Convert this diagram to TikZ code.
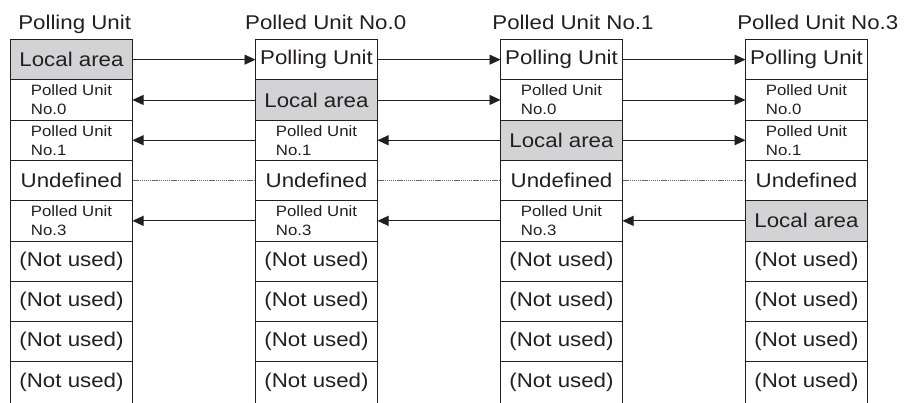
\documentclass[tikz,border=0pt]{standalone}
\usepackage{fontspec}
\setmainfont{Liberation Sans}[FakeStretch=1.12]
\usetikzlibrary{arrows.meta, positioning}

\definecolor{areagray}{RGB}{211,211,213}
\definecolor{inkblack}{RGB}{35,31,32}
\newcommand\bigtxt{\fontsize{19.9}{23}\selectfont}
\newcommand\smalltxt{\fontsize{15}{18.8}\selectfont}

\tikzset{
    cell/.style={draw=inkblack, line width=1pt, minimum width=122pt,
        minimum height=40.3pt, inner sep=0pt, outer sep=0pt, font=\bigtxt},
    localcell/.style={cell, fill=areagray},
    unitcell/.style={cell, font=\smalltxt, align=left},
    lastcell/.style={cell, minimum height=50pt},
    head/.style={font=\bigtxt, anchor=base, inner sep=0pt},
    link/.style={line width=0.9pt, draw=inkblack, -{Triangle[length=11pt, width=10pt]}},
    nolink/.style={line width=0.5pt, draw=black!60, dash pattern=on 1.2pt off 0.7pt}
}

\begin{document}
\begin{tikzpicture}[x=1pt, y=1pt, text=inkblack]
    \useasboundingbox (0,0) rectangle (911,-402);
    \clip (0,0) rectangle (911,-402);

    % headers
    \node[head] (hA) at (74.7,-29.3) {Polling Unit};
    \node[head] (hB) at (325.7,-29.3) {Polled Unit No.0};
    \node[head] (hC) at (573,-29.3) {Polled Unit No.1};
    \node[head] (hD) at (817.8,-29.3) {Polled Unit No.3};

    % polling unit
    \node[localcell] (A1) at (71.5,-59.65) {Local area};
    \node[unitcell, below=0pt of A1] (A2) {Polled Unit\\No.0};
    \node[unitcell, below=0pt of A2] (A3) {Polled Unit\\No.1};
    \node[cell, below=0pt of A3] (A4) {Undefined};
    \node[unitcell, below=0pt of A4] (A5) {Polled Unit\\No.3};

    % polled unit no.0
    \node[cell] (B1) at (316.5,-59.65) {Polling Unit};
    \node[localcell, below=0pt of B1] (B2) {Local area};
    \node[unitcell, below=0pt of B2] (B3) {Polled Unit\\No.1};
    \node[cell, below=0pt of B3] (B4) {Undefined};
    \node[unitcell, below=0pt of B4] (B5) {Polled Unit\\No.3};

    % polled unit no.1
    \node[cell] (C1) at (561.5,-59.65) {Polling Unit};
    \node[unitcell, below=0pt of C1] (C2) {Polled Unit\\No.0};
    \node[localcell, below=0pt of C2] (C3) {Local area};
    \node[cell, below=0pt of C3] (C4) {Undefined};
    \node[unitcell, below=0pt of C4] (C5) {Polled Unit\\No.3};

    % polled unit no.3
    \node[cell] (D1) at (806.5,-59.65) {Polling Unit};
    \node[unitcell, below=0pt of D1] (D2) {Polled Unit\\No.0};
    \node[unitcell, below=0pt of D2] (D3) {Polled Unit\\No.1};
    \node[cell, below=0pt of D3] (D4) {Undefined};
    \node[localcell, below=0pt of D4] (D5) {Local area};

    % unused words
    \foreach \col in {A,B,C,D} {
        \node[cell, below=0pt of \col5] (\col6) {(Not used)};
        \node[cell, below=0pt of \col6] (\col7) {(Not used)};
        \node[cell, below=0pt of \col7] (\col8) {(Not used)};
        \node[lastcell, below=0pt of \col8] (\col9) {};
        \node[font=\bigtxt] (\col9t) at (\col9 |- 0,-382.5) {(Not used)};
    }

    % data links
    \draw[link] (A1) -- (B1);
    \draw[link] (B1) -- (C1);
    \draw[link] (C1) -- (D1);
    \draw[link] (B2) -- (A2);
    \draw[link] (B2) -- (C2);
    \draw[link] (C2) -- (D2);
    \draw[link] (C3) -- (B3);
    \draw[link] (B3) -- (A3);
    \draw[link] (C3) -- (D3);
    \draw[nolink] (A4) -- (B4);
    \draw[nolink] (B4) -- (C4);
    \draw[nolink] (C4) -- (D4);
    \draw[link] (D5) -- (C5);
    \draw[link] (C5) -- (B5);
    \draw[link] (B5) -- (A5);
\end{tikzpicture}
\end{document}
